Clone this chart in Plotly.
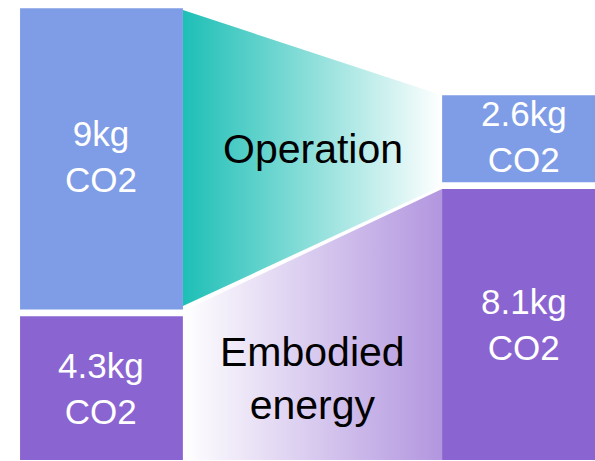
import plotly.graph_objects as go

# Data
stages = ["Before", "After"]
operation = [9, 2.6]
embodied = [4.3, 8.1]
op_labels = ["9kg<br>CO2", "2.6kg<br>CO2"]
emb_labels = ["4.3kg<br>CO2", "8.1kg<br>CO2"]
flow_names = ["Operation", "Embodied<br>energy"]

# Style
BLUE = "#7f9de6"
PURPLE = "#8a64d0"
TEAL = "#1dbfb6"
LILAC = "#b296df"
FONT = "Liberation Sans, Arial, sans-serif"
GAP = 0.2
W = 0.386
xs = [0, 1]

fig = go.Figure()

op_base = [e + GAP for e in embodied]

# Bars
fig.add_trace(go.Bar(x=xs, y=embodied, base=[0, 0], width=W,
                     marker=dict(color=PURPLE, line=dict(width=0)),
                     showlegend=False, hoverinfo="skip"))
fig.add_trace(go.Bar(x=xs, y=operation, base=op_base, width=W,
                     marker=dict(color=BLUE, line=dict(width=0)),
                     showlegend=False, hoverinfo="skip"))

# Flow trapezoids
x0, x1 = xs[0] + W / 2, xs[1] - W / 2
fig.add_trace(go.Scatter(
    x=[x0, x1, x1, x0, x0],
    y=[op_base[0] + operation[0] - 0.05, op_base[1] + operation[1],
       op_base[1] - 0.1, op_base[0] + 0.1, op_base[0] + operation[0] - 0.05],
    fill="toself", mode="none", hoverinfo="skip", showlegend=False,
    fillgradient=dict(type="horizontal", colorscale=[[0, TEAL], [1, "#ffffff"]]),
))
fig.add_trace(go.Scatter(
    x=[x0, x1, x1, x0, x0],
    y=[embodied[0] + 0.15, embodied[1], 0, 0, embodied[0] + 0.15],
    fill="toself", mode="none", hoverinfo="skip", showlegend=False,
    fillgradient=dict(type="horizontal", colorscale=[[0, "#ffffff"], [1, LILAC]]),
))

# Labels in bars
for i in range(2):
    fig.add_annotation(x=xs[i], y=embodied[i] / 2, text=emb_labels[i],
                       showarrow=False, font=dict(color="white", size=35, family=FONT))
    fig.add_annotation(x=xs[i], y=op_base[i] + operation[i] / 2 + 0.08, text=op_labels[i],
                       showarrow=False, font=dict(color="white", size=35, family=FONT))

# Flow labels
fig.add_annotation(x=0.5, y=9.3, text=flow_names[0], showarrow=False,
                   font=dict(color="black", size=41, family=FONT))
fig.add_annotation(x=0.5, y=2.45, text=flow_names[1], showarrow=False,
                   font=dict(color="black", size=41, family=FONT))

fig.update_layout(
    width=595, height=461,
    margin=dict(l=0, r=0, t=0, b=0),
    paper_bgcolor="white", plot_bgcolor="white",
    barmode="overlay",
    xaxis=dict(range=[-0.2405, 1.1694], visible=False, fixedrange=True),
    yaxis=dict(range=[-0.03, 13.75], visible=False, fixedrange=True),
)

fig.write_html(
    "out.html",
    config={"displayModeBar": False},
    post_script=("document.body.style.margin='0';"
                 "document.body.style.overflow='hidden';"
                 "document.body.style.background='white';"),
)
